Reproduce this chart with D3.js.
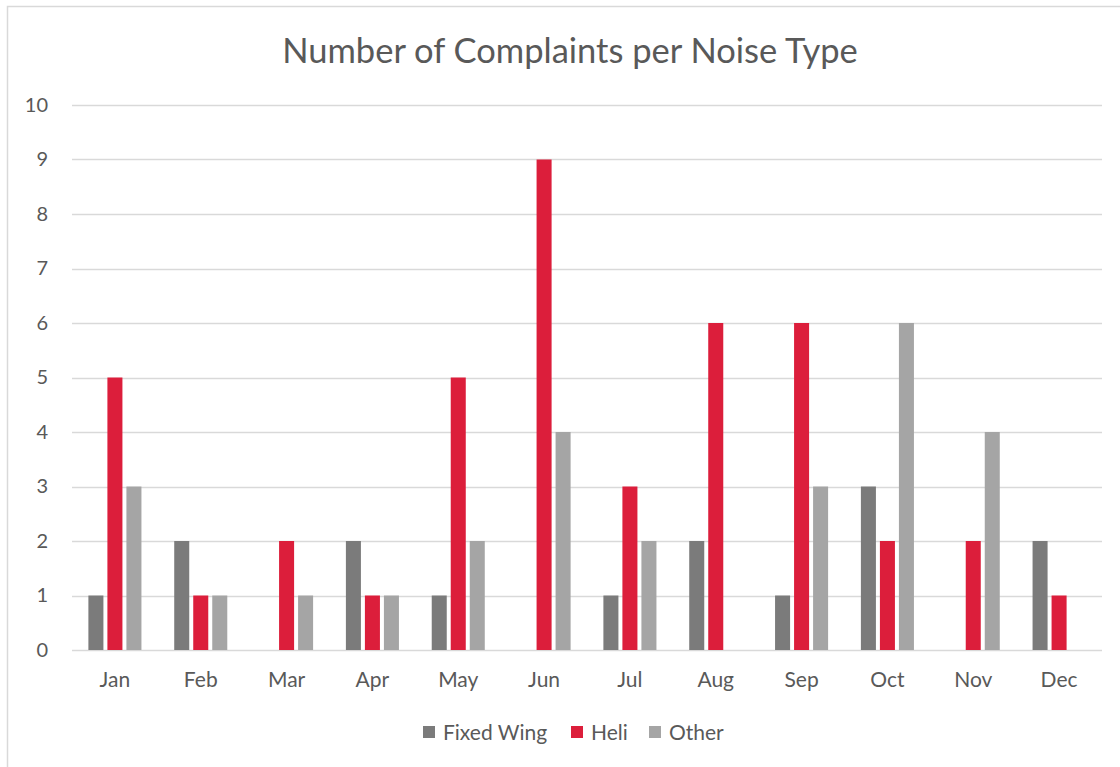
<!DOCTYPE html>
<html>
<head>
<meta charset="utf-8">
<script src="https://cdn.jsdelivr.net/npm/d3@7"></script>
<style>
  body { margin:0; background:#fff; }
  svg text { font-family: Lato, "Open Sans", sans-serif; fill:#595959; }
</style>
</head>
<body>
<svg id="graph"></svg>
<script>
var months = ["Jan","Feb","Mar","Apr","May","Jun","Jul","Aug","Sep","Oct","Nov","Dec"]
var seriesNames = ["Fixed Wing","Heli","Other"]
var fixedWing = [1,2,0,2,1,0,1,2,1,3,0,2]
var heli = [5,1,2,1,5,9,3,6,6,2,2,1]
var other = [3,1,1,1,2,4,2,0,3,6,4,0]
var yTicks = [0,1,2,3,4,5,6,7,8,9,10]
var colors = ["#7b7b7b","#dc1e3b","#a5a5a5"]

var screen = {width:1120,height:767}
var margins = {left:72,right:18,top:105,bottom:117}
var graph = {
    width:screen.width-margins.left-margins.right,
    height:screen.height-margins.top-margins.bottom
}

var svg = d3.select("#graph")
    .attr("width",screen.width)
    .attr("height",screen.height)

// chart frame (cropped at right and bottom)
svg.append("rect")
    .attr("x",7.5).attr("y",6.5)
    .attr("width",1130).attr("height",780)
    .attr("fill","none")
    .attr("stroke","#d9d9d9")
    .attr("stroke-width",1.5)

var xScale = d3.scaleBand()
    .domain(months)
    .range([0,graph.width])

var yScale = d3.scaleLinear()
    .domain([0,10])
    .range([graph.height,0])

var groupW = xScale.bandwidth()*0.618
var inner = d3.scaleBand()
    .domain(seriesNames)
    .range([0,groupW])
    .paddingInner(0.21)

var target = svg.append("g")
    .attr("transform","translate("+margins.left+","+margins.top+")")

// gridlines
target.append("g")
    .selectAll("line")
    .data(yTicks)
    .enter()
    .append("line")
    .attr("x1",0)
    .attr("x2",graph.width)
    .attr("y1",function(d){return Math.round(yScale(d))+0.5})
    .attr("y2",function(d){return Math.round(yScale(d))+0.5})
    .attr("stroke","#d9d9d9")
    .attr("stroke-width",1.5)

// y labels
var yAxis = d3.axisLeft(yScale).tickValues(yTicks).tickSize(0).tickPadding(24)
var ya = target.append("g").call(yAxis)
ya.select(".domain").remove()
ya.selectAll("text").style("font-size","20px").attr("fill","#595959")

// x labels
var xAxis = d3.axisBottom(xScale).tickSize(0).tickPadding(22)
var xa = target.append("g")
    .attr("transform","translate(0,"+graph.height+")")
    .call(xAxis)
xa.select(".domain").remove()
xa.selectAll("text").style("font-size","21px").attr("fill","#595959")

// bars
var table = []
months.forEach(function(m,i){
    table.push({month:m,series:"Fixed Wing",value:fixedWing[i]})
    table.push({month:m,series:"Heli",value:heli[i]})
    table.push({month:m,series:"Other",value:other[i]})
})

target.append("g")
    .selectAll("rect")
    .data(table.filter(function(d){return d.value>0}))
    .enter()
    .append("rect")
    .attr("x",function(d){
        return xScale(d.month)+(xScale.bandwidth()-groupW)/2+inner(d.series)
    })
    .attr("y",function(d){return yScale(d.value)})
    .attr("width",inner.bandwidth())
    .attr("height",function(d){return graph.height-yScale(d.value)})
    .attr("fill",function(d){return colors[seriesNames.indexOf(d.series)]})

// title
svg.append("text")
    .text("Number of Complaints per Noise Type")
    .attr("text-anchor","middle")
    .attr("x",570)
    .attr("y",63)
    .style("font-size","34.5px")

// legend
var legendX = [423,571,649]
var legend = svg.append("g")
var entries = legend.selectAll("g")
    .data(seriesNames)
    .enter()
    .append("g")
    .attr("transform",function(d,i){return "translate("+legendX[i]+",726)"})
entries.append("rect")
    .attr("width",12)
    .attr("height",12)
    .attr("fill",function(d,i){return colors[i]})
entries.append("text")
    .text(function(d){return d})
    .attr("x",20)
    .attr("y",14)
    .style("font-size","21px")
</script>
</body>
</html>
